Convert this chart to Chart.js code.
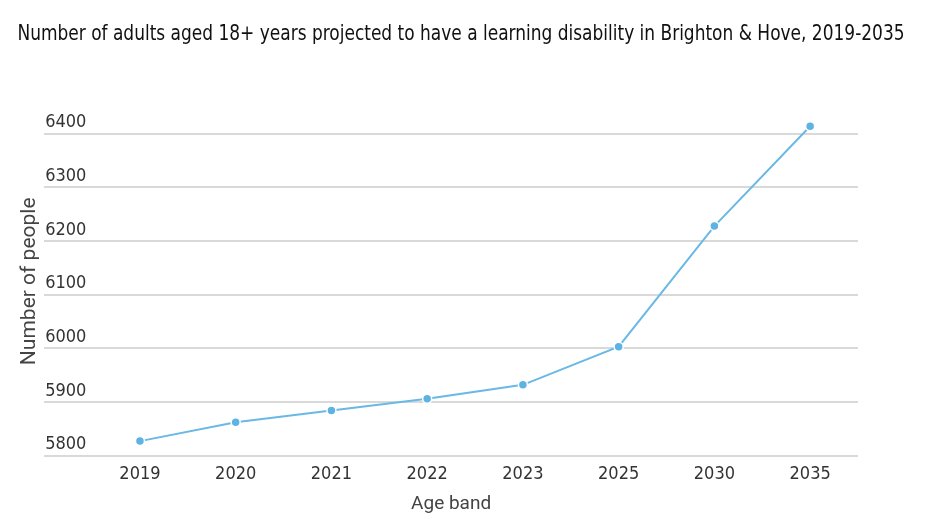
<!DOCTYPE html>
<html lang="en">
<head>
    <meta charset="UTF-8">
    <title>Adults with a learning disability in Brighton & Hove, 2019-2035</title>
    <style type="text/css">
        body{ margin:0; background:#fff; overflow:hidden; }
        .chartBox{ position:relative; width:935px; height:529px; }
        .chartTitle{
            position:absolute; top:20px; left:-39px; width:1000px; text-align:center; white-space:nowrap;
            font-family:'DejaVu Sans Condensed','DejaVu Sans',sans-serif;
            font-size:21px; color:#111; line-height:26px;
            transform:scaleX(0.9); transform-origin:50% 0;
        }
    </style>
</head>
<body>

<div class="chartBox">
    <div class="chartTitle">Number of adults aged 18+ years projected to have a learning disability in Brighton &amp; Hove, 2019-2035</div>
    <canvas id="myChart"></canvas>
</div>

<script src="https://cdn.jsdelivr.net/npm/chart.js"></script>
<script>
    const years = ['2019', '2020', '2021', '2022', '2023', '2025', '2030', '2035'];
    const people = [5827, 5862, 5884, 5906, 5932, 6003, 6228, 6414];
    const yTicks = [5800, 5900, 6000, 6100, 6200, 6300, 6400];

    const narrow = "'DejaVu Sans Condensed','DejaVu Sans'";

    const ctx = document.getElementById('myChart').getContext('2d');
    const myChart = new Chart(ctx, {
        type: 'line',
        data: {
            datasets: [{
                label: 'Number of people',
                data: years.map((y, i) => ({x: i, y: people[i]})),
                borderColor: '#6ab8e5',
                backgroundColor: '#5db4e4',
                borderWidth: 2,
                pointRadius: 4.5,
                pointBorderColor: '#ffffff',
                pointBorderWidth: 1.5,
                tension: 0
            }]
        },
        options: {
            responsive: true,
            maintainAspectRatio: false,
            animation: false,
            layout: { padding: { left: 5, right: 77, top: 107, bottom: 10 } },
            plugins: {
                legend: { display: false },
                tooltip: { enabled: false }
            },
            scales: {
                x: {
                    type: 'linear',
                    min: -1,
                    max: 7.5,
                    afterBuildTicks: axis => { axis.ticks = years.map((y, i) => ({value: i})); },
                    grid: { display: false, drawTicks: false },
                    border: { display: false },
                    ticks: {
                        callback: v => years[v],
                        color: '#333',
                        padding: 8,
                        maxRotation: 0,
                        font: { family: narrow, size: 18 }
                    },
                    title: {
                        display: true,
                        text: 'Age band',
                        color: '#444',
                        padding: { top: 0, bottom: 3 },
                        font: { family: 'Roboto', size: 19 }
                    }
                },
                y: {
                    min: 5800,
                    max: 6450,
                    afterBuildTicks: axis => { axis.ticks = yTicks.map(v => ({value: v})); },
                    grid: { color: '#d9d9d9', lineWidth: 2, drawTicks: false },
                    border: { display: false },
                    ticks: {
                        mirror: true,
                        padding: 1,
                        labelOffset: -11,
                        color: '#333',
                        callback: v => String(v),
                        font: { family: narrow, size: 18 }
                    },
                    title: {
                        display: true,
                        text: 'Number of people',
                        color: '#444',
                        padding: { top: 12, bottom: 0 },
                        font: { family: 'Roboto', size: 21 }
                    }
                }
            }
        }
    });
</script>

</body>
</html>
